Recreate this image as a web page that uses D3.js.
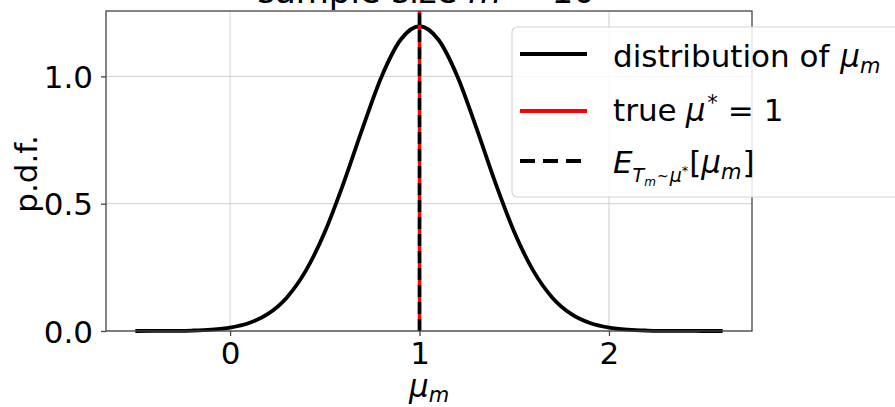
<!DOCTYPE html>
<html>
<head>
<meta charset="utf-8">
<script src="https://cdn.jsdelivr.net/npm/d3@7"></script>
<style>
  body { margin: 0; background: #fff; }
  svg { display: block; }
  text { font-family: "DejaVu Sans", sans-serif; fill: #000; }
</style>
</head>
<body>
<svg id="chart" width="895" height="407"></svg>
<script>
// Sampling distribution of the sample mean (m = 10), evaluated on a grid of mu_m values
const muValues = [-0.5, -0.4, -0.3, -0.2, -0.1, 0.0, 0.1, 0.2, 0.3, 0.4, 0.5, 0.6, 0.7, 0.8, 0.9, 1.0,
                  1.1, 1.2, 1.3, 1.4, 1.5, 1.6, 1.7, 1.8, 1.9, 2.0, 2.1, 2.2, 2.3, 2.4, 2.5, 2.6];
const pdfValues = [0.0001, 0.0002, 0.0006, 0.0018, 0.0052, 0.0133, 0.0313, 0.0672, 0.132, 0.237, 0.389,
                   0.583, 0.798, 1.000, 1.144, 1.197, 1.144, 1.000, 0.798, 0.583, 0.389, 0.237, 0.132,
                   0.0672, 0.0313, 0.0133, 0.0052, 0.0018, 0.0006, 0.0002, 0.0001, 0.0000];
const trueMu = 1;          // true mean mu*
const expectedMu = 1;      // E[mu_m]
const xTicks = [0, 1, 2];
const xTickLabels = ["0", "1", "2"];
const yTicks = [0.0, 0.5, 1.0];
const yTickLabels = ["0.0", "0.5", "1.0"];
const sampleSize = 10;

const FS = 31;      // base font size
const SUB = 21;     // subscript size

const svg = d3.select("#chart");
const plot = { left: 106, right: 752, top: 11, bottom: 331 };

const xPad = (d3.max(muValues) - d3.min(muValues)) * 0.05;
const x = d3.scaleLinear()
  .domain([d3.min(muValues) - xPad, d3.max(muValues) + xPad])
  .range([plot.left, plot.right]);
const y = d3.scaleLinear()
  .domain([0, d3.max(pdfValues) * 1.05])
  .range([plot.bottom, plot.top]);

const points = muValues.map((m, i) => ({ m, p: pdfValues[i] }));

// grid
const grid = svg.append("g").attr("stroke", "#cfcfcf").attr("stroke-width", 1);
grid.selectAll(".gx").data(xTicks).join("line")
  .attr("x1", d => x(d)).attr("x2", d => x(d))
  .attr("y1", plot.top).attr("y2", plot.bottom);
grid.selectAll(".gy").data(yTicks).join("line")
  .attr("x1", plot.left).attr("x2", plot.right)
  .attr("y1", d => y(d)).attr("y2", d => y(d));

// density curve
svg.append("path")
  .datum(points)
  .attr("fill", "none")
  .attr("stroke", "#000")
  .attr("stroke-width", 3.8)
  .attr("stroke-linejoin", "round")
  .attr("d", d3.line().x(d => x(d.m)).y(d => y(d.p)).curve(d3.curveMonotoneX));

// true mean and expectation
svg.append("line")
  .attr("x1", x(trueMu)).attr("x2", x(trueMu))
  .attr("y1", plot.top).attr("y2", plot.bottom)
  .attr("stroke", "#ff0000").attr("stroke-width", 3.5);
svg.append("line")
  .attr("x1", x(expectedMu)).attr("x2", x(expectedMu))
  .attr("y1", plot.bottom).attr("y2", plot.top)
  .attr("stroke", "#000").attr("stroke-width", 3.5)
  .attr("stroke-dasharray", "12,5");

// axes
const xAxis = svg.append("g")
  .attr("transform", `translate(0,${plot.bottom})`)
  .call(d3.axisBottom(x).tickValues(xTicks).tickFormat((d, i) => xTickLabels[i])
    .tickSize(5).tickSizeOuter(0).tickPadding(6));
const yAxis = svg.append("g")
  .attr("transform", `translate(${plot.left},0)`)
  .call(d3.axisLeft(y).tickValues(yTicks).tickFormat((d, i) => yTickLabels[i])
    .tickSize(5).tickSizeOuter(0).tickPadding(8));
[xAxis, yAxis].forEach(g => {
  g.select(".domain").remove();
  g.selectAll(".tick line").attr("stroke", "#444").attr("stroke-width", 1.3);
  g.selectAll(".tick text").attr("font-size", FS).attr("fill", "#000")
    .style("font-family", '"DejaVu Sans", sans-serif');
});
xAxis.selectAll(".tick text").attr("dy", "0.71em");
yAxis.selectAll(".tick text").attr("dy", "0.36em");

// frame
svg.append("rect")
  .attr("x", plot.left).attr("y", plot.top)
  .attr("width", plot.right - plot.left).attr("height", plot.bottom - plot.top)
  .attr("fill", "none").attr("stroke", "#444").attr("stroke-width", 1.3);

// axis labels
const xl = svg.append("text")
  .attr("x", (plot.left + plot.right) / 2).attr("y", 397)
  .attr("text-anchor", "middle").attr("font-size", FS);
xl.append("tspan").attr("font-style", "italic").text("μ");
xl.append("tspan").attr("font-style", "italic").attr("font-size", SUB).attr("dy", 5).text("m");

svg.append("text")
  .attr("transform", `translate(37,${(plot.top + plot.bottom) / 2 + 3}) rotate(-90)`)
  .attr("text-anchor", "middle").attr("font-size", FS)
  .text("p.d.f.");

// title (sits partly above the canvas)
const title = svg.append("text")
  .attr("x", (plot.left + plot.right) / 2 - 3).attr("y", 3)
  .attr("text-anchor", "middle").attr("font-size", 34)
  .attr("xml:space", "preserve");
title.append("tspan").text("sample size ");
title.append("tspan").attr("font-style", "italic").text("m");
title.append("tspan").text(` = ${sampleSize}`);

// legend
const lg = svg.append("g");
lg.append("rect")
  .attr("x", 512).attr("y", 27).attr("width", 400).attr("height", 170)
  .attr("rx", 5).attr("ry", 5)
  .attr("fill", "#fff").attr("fill-opacity", 0.85)
  .attr("stroke", "#d4d4d4").attr("stroke-width", 1.2);

const legendItems = [
  { y: 54, stroke: "#000", dash: null },
  { y: 111, stroke: "#ff0000", dash: null },
  { y: 161, stroke: "#000", dash: "15,8" }
];
lg.selectAll(".h").data(legendItems).join("line")
  .attr("x1", 520).attr("x2", 587)
  .attr("y1", d => d.y).attr("y2", d => d.y)
  .attr("stroke", d => d.stroke).attr("stroke-width", 3.8)
  .attr("stroke-dasharray", d => d.dash);

// legend labels: mathtext-like pieces laid out one after another
// each piece: text, size, italic, baseline shift (shift), extra gap before (gap)
const flow = (parent, x0, baseline, list) => {
  let cx = x0;
  list.forEach(p => {
    cx += p.gap || 0;
    const t = parent.append("text")
      .attr("x", cx).attr("y", baseline + (p.shift || 0))
      .attr("font-size", p.size || FS)
      .attr("font-style", p.it ? "italic" : null)
      .attr("xml:space", "preserve")
      .text(p.t);
    cx += t.node().getComputedTextLength();
  });
};
flow(lg, 613, 67, [
  { t: "distribution of " },
  { t: "μ", it: true, gap: 1 },
  { t: "m", it: true, size: SUB, shift: 6 }
]);
flow(lg, 613, 121, [
  { t: "true" },
  { t: "μ", it: true, gap: 9 },
  { t: "*", size: SUB, shift: -11, gap: 2 },
  { t: "=", gap: 10 },
  { t: "1", gap: 10 }
]);
flow(lg, 613, 173, [
  { t: "E", it: true },
  { t: "T", it: true, size: 19, shift: 9 },
  { t: "m", it: true, size: 12, shift: 13 },
  { t: "~", size: 14, shift: 8, gap: 1 },
  { t: "μ", it: true, size: 19, shift: 9, gap: 1 },
  { t: "*", size: 13, shift: 2 },
  { t: "[", gap: 1 },
  { t: "μ", it: true },
  { t: "m", it: true, size: SUB, shift: 6 },
  { t: "]", gap: 1 }
]);
</script>
</body>
</html>
